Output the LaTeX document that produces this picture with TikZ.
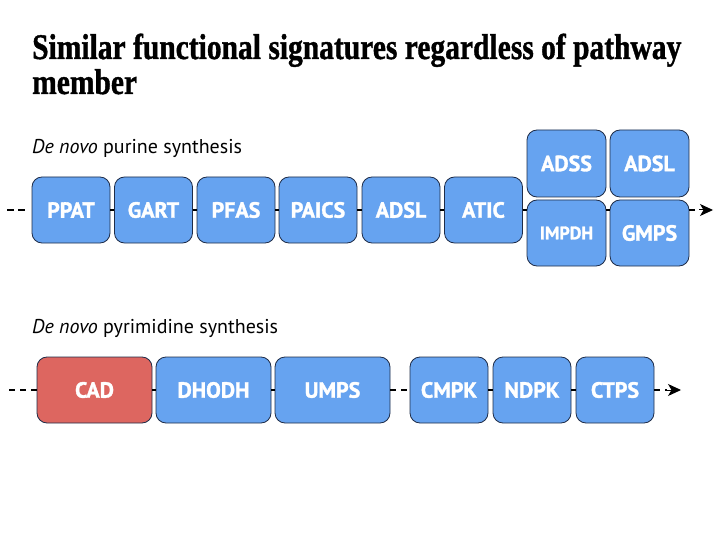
\documentclass[tikz,border=0pt]{standalone}
\usepackage{fontspec}
\setmainfont[BoldFeatures={FakeBold=1.2}]{Liberation Serif}
\newfontfamily\boxfont[BoldFeatures={FakeBold=1.5}]{PT Sans}
\newfontfamily\labfont{PT Sans}
\usetikzlibrary{arrows.meta}
\definecolor{boxblue}{HTML}{66A3F0}
\definecolor{boxred}{HTML}{DD6660}
\definecolor{boxline}{HTML}{1E2C48}
\tikzset{
  enz/.style={draw=boxline, line width=0.8pt, fill=boxblue, rounded corners=10pt,
    minimum height=66pt, inner sep=0pt, text=white,
    font=\boxfont\bfseries\fontsize{22}{24}\selectfont},
  link/.style={line width=2.2pt, black},
  dashlink/.style={line width=2.2pt, black, dash pattern=on 6pt off 5pt},
  tipped/.style={line width=1pt, black, -{Stealth[length=13pt,width=12pt,inset=3.5pt]}},
  lab/.style={anchor=base west, inner sep=0pt, font=\labfont\fontsize{20}{22}\selectfont},
  ttl/.style={anchor=base west, inner sep=0pt, font=\bfseries\fontsize{36}{40}\selectfont}
}
\begin{document}
\begin{tikzpicture}[x=1pt,y=-1pt]
\useasboundingbox (0,0) rectangle (720,540);
% title
\node[ttl] (t1) at (32,59) {\scalebox{0.82}[1]{Similar functional signatures regardless of pathway}};
\node[ttl] (t2) at (32,94) {\scalebox{0.82}[1]{member}};
% labels
\node[lab] (l1) at (32,154) {\textit{De novo} purine synthesis};
\node[lab] (l2) at (32,333) {\textit{De novo} pyrimidine synthesis};
% purine row
\node[enz, minimum width=78pt] (ppat) at (71,210) {PPAT};
\node[enz, minimum width=78pt] (gart) at (153.5,210) {GART};
\node[enz, minimum width=78pt] (pfas) at (236,210) {PFAS};
\node[enz, minimum width=78pt] (paics) at (318,210) {PAICS};
\node[enz, minimum width=78pt] (adsl) at (401,210) {ADSL};
\node[enz, minimum width=78pt] (atic) at (483.5,210) {ATIC};
\node[enz, minimum width=79pt, minimum height=67pt] (adss) at (566.5,163.5) {ADSS};
\node[enz, minimum width=79pt, minimum height=67pt] (adsl2) at (649.5,163.5) {ADSL};
\node[enz, minimum width=79pt, font=\boxfont\bfseries\fontsize{18}{20}\selectfont] (impdh) at (566.5,233) {IMPDH};
\node[enz, minimum width=79pt] (gmps) at (649.5,233) {GMPS};
\coordinate (pstart) at (7,210);
\coordinate (pmid) at (699,210);
\coordinate (pend) at (713,210);
\draw[dashlink, dash pattern=on 7pt off 4pt on 7pt off 100pt] (pstart) -- (ppat.west);
\draw[link] (ppat.east) -- (gart.west);
\draw[link] (gart.east) -- (pfas.west);
\draw[link] (pfas.east) -- (paics.west);
\draw[link] (paics.east) -- (adsl.west);
\draw[link] (adsl.east) -- (atic.west);
\draw[link] (atic.east) -- (impdh.west |- atic.east);
\draw[link] (impdh.east |- atic.east) -- (gmps.west |- atic.east);
\draw[dashlink] (gmps.east |- atic.east) -- (pmid);
\draw[tipped] (pmid) -- (pend);
% pyrimidine row
\node[enz, fill=boxred, minimum width=115pt] (cad) at (94.5,390) {CAD};
\node[enz, minimum width=115pt] (dhodh) at (213.5,390) {DHODH};
\node[enz, minimum width=115pt] (umps) at (332.5,390) {UMPS};
\node[enz, minimum width=78pt] (cmpk) at (449,390) {CMPK};
\node[enz, minimum width=78pt] (ndpk) at (532,390) {NDPK};
\node[enz, minimum width=78pt] (ctps) at (615,390) {CTPS};
\coordinate (ystart) at (9,390);
\coordinate (ymid) at (667,390);
\coordinate (yend) at (681,390);
\draw[dashlink] (ystart) -- (cad.west);
\draw[link] (cad.east) -- (dhodh.west);
\draw[link] (dhodh.east) -- (umps.west);
\draw[dashlink] (umps.east) -- (cmpk.west);
\draw[link] (cmpk.east) -- (ndpk.west);
\draw[link] (ndpk.east) -- (ctps.west);
\draw[dashlink] (ctps.east) -- (ymid);
\draw[tipped] (ymid) -- (yend);
\end{tikzpicture}
\end{document}
